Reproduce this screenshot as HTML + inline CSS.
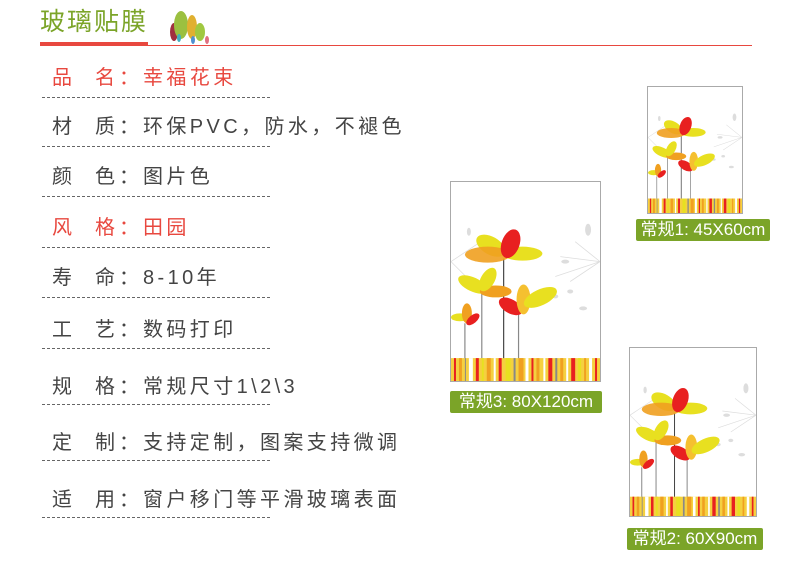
<!DOCTYPE html>
<html><head><meta charset="utf-8"><style>
body{margin:0;width:790px;height:567px;background:#fff;position:relative;overflow:hidden;font-family:"Liberation Sans","Noto Sans CJK SC",sans-serif}
.t{position:absolute;font-size:20px;color:#444;white-space:nowrap;line-height:24px;left:0;width:500px;height:24px}
.t b,.t i,.t u,.t span{font-weight:normal;font-style:normal;text-decoration:none;position:absolute;top:0}
.t b{left:52px}.t i{left:95px}.t u{left:119px}.t span{left:143px;letter-spacing:3.4px}
.red{color:#e8483f}
.d{position:absolute;left:42px;width:228px;border-top:1px dashed #666;height:0}
.pic{position:absolute;border:1px solid #aaa;background:#fff}
.pic svg{display:block;width:100%;height:100%}
.lab{position:absolute;background:#7ba428;color:#fff;font-size:17px;line-height:22px;border-radius:2px;text-align:center;white-space:nowrap}
</style></head><body>
<svg width="0" height="0" style="position:absolute">
<defs>
<symbol id="art" viewBox="0 0 150 200" preserveAspectRatio="none">
<g stroke="#ddd" stroke-width="0.8" fill="none"><path d="M150 80 L110 75 M150 80 L120 100 M150 80 L125 60 M150 80 L105 95 M0 80 L30 60 M0 80 L25 105"/></g>
<g fill="#ddd"><ellipse cx="138" cy="48" rx="3" ry="6"/><ellipse cx="115" cy="80" rx="4" ry="2"/><ellipse cx="120" cy="110" rx="3" ry="2"/><ellipse cx="133" cy="127" rx="4" ry="2"/><ellipse cx="105" cy="115" rx="3" ry="2"/><ellipse cx="18" cy="50" rx="2" ry="4"/></g>
<g stroke="#888" stroke-width="1.2"><line x1="14" y1="142" x2="14" y2="178"/><line x1="31" y1="112" x2="31" y2="178"/><line x1="68" y1="132" x2="68" y2="178"/></g>
<line x1="53" y1="77" x2="53" y2="178" stroke="#444" stroke-width="1.2"/>
<ellipse cx="40" cy="64" rx="16" ry="9" fill="#e8e020" transform="rotate(30 40 64)"/>
<ellipse cx="37" cy="73" rx="23" ry="8" fill="#f0a020" opacity=".9"/>
<ellipse cx="72" cy="72" rx="20" ry="7" fill="#e8e020"/>
<ellipse cx="60" cy="62" rx="9" ry="15" fill="#e82020" transform="rotate(20 60 62)"/>
<ellipse cx="22" cy="103" rx="16" ry="7" fill="#e8e020" transform="rotate(25 22 103)"/>
<ellipse cx="45" cy="110" rx="16" ry="6" fill="#f0a020"/>
<ellipse cx="37" cy="98" rx="7" ry="13" fill="#e8e020" transform="rotate(30 37 98)"/>
<ellipse cx="9" cy="136" rx="9" ry="4" fill="#e8e020"/>
<ellipse cx="16" cy="132" rx="5" ry="10" fill="#f0a020"/>
<ellipse cx="22" cy="138" rx="4" ry="8" fill="#e82020" transform="rotate(50 22 138)"/>
<ellipse cx="60" cy="125" rx="13" ry="7" fill="#e82020" transform="rotate(30 60 125)"/>
<ellipse cx="73" cy="118" rx="7" ry="15" fill="#f5c030"/>
<ellipse cx="90" cy="116" rx="18" ry="8" fill="#e8e020" transform="rotate(-25 90 116)"/>
<g>
<rect x="0" y="177" width="150" height="23" fill="#f5d040"/>
<rect x="3" y="177" width="2" height="23" fill="#e82020"/><rect x="8" y="177" width="3" height="23" fill="#f0a020"/><rect x="14" y="177" width="1" height="23" fill="#888"/><rect x="18" y="177" width="4" height="23" fill="#fff"/><rect x="25" y="177" width="3" height="23" fill="#e82020"/><rect x="31" y="177" width="2" height="23" fill="#e8e020"/><rect x="36" y="177" width="4" height="23" fill="#f0a020"/><rect x="43" y="177" width="2" height="23" fill="#fff"/><rect x="48" y="177" width="3" height="23" fill="#e82020"/><rect x="55" y="177" width="5" height="23" fill="#e8e020"/><rect x="63" y="177" width="2" height="23" fill="#888"/><rect x="68" y="177" width="5" height="23" fill="#f0a020"/><rect x="75" y="177" width="3" height="23" fill="#fff"/><rect x="81" y="177" width="2" height="23" fill="#e82020"/><rect x="86" y="177" width="3" height="23" fill="#f0a020"/><rect x="93" y="177" width="2" height="23" fill="#fff"/><rect x="98" y="177" width="4" height="23" fill="#e82020"/><rect x="105" y="177" width="2" height="23" fill="#888"/><rect x="110" y="177" width="3" height="23" fill="#f0a020"/><rect x="116" y="177" width="2" height="23" fill="#fff"/><rect x="121" y="177" width="4" height="23" fill="#e82020"/><rect x="128" y="177" width="3" height="23" fill="#e8e020"/><rect x="134" y="177" width="2" height="23" fill="#f0a020"/><rect x="139" y="177" width="3" height="23" fill="#fff"/><rect x="145" y="177" width="2" height="23" fill="#e82020"/>
</g>
</symbol>
</defs></svg>

<div style="position:absolute;left:40px;top:7px;font-size:25px;letter-spacing:2px;color:#7ba428;line-height:30px">玻璃贴膜</div>
<svg style="position:absolute;left:165px;top:5px" width="50" height="40">
<ellipse cx="9" cy="27" rx="4" ry="9" fill="#a03040"/><ellipse cx="16" cy="20" rx="7" ry="14" fill="#9bc040"/><ellipse cx="27" cy="22" rx="5" ry="12" fill="#e0b030"/><ellipse cx="35" cy="27" rx="5" ry="9" fill="#a0c840"/><ellipse cx="14" cy="33" rx="2" ry="4" fill="#40b0c0"/><ellipse cx="28" cy="35" rx="2" ry="4" fill="#5090d0"/><ellipse cx="42" cy="35" rx="2" ry="4" fill="#e07080"/>
</svg>
<div style="position:absolute;left:40px;top:45px;width:712px;height:1px;background:#e8483f"></div>
<div style="position:absolute;left:40px;top:42px;width:108px;height:4px;background:#e8483f"></div>

<div class="t red" style="top:66px"><b>品</b><i>名</i><u>：</u><span>幸福花束</span></div>
<div class="t" style="top:115px"><b>材</b><i>质</i><u>：</u><span>环保PVC，防水，不褪色</span></div>
<div class="t" style="top:165px"><b>颜</b><i>色</i><u>：</u><span>图片色</span></div>
<div class="t red" style="top:216px"><b>风</b><i>格</i><u>：</u><span>田园</span></div>
<div class="t" style="top:266px"><b>寿</b><i>命</i><u>：</u><span>8-10年</span></div>
<div class="t" style="top:318px"><b>工</b><i>艺</i><u>：</u><span>数码打印</span></div>
<div class="t" style="top:375px"><b>规</b><i>格</i><u>：</u><span>常规尺寸1\2\3</span></div>
<div class="t" style="top:431px"><b>定</b><i>制</i><u>：</u><span>支持定制，图案支持微调</span></div>
<div class="t" style="top:488px"><b>适</b><i>用</i><u>：</u><span>窗户移门等平滑玻璃表面</span></div>

<div class="d" style="top:97px"></div><div class="d" style="top:146px"></div><div class="d" style="top:196px"></div><div class="d" style="top:247px"></div><div class="d" style="top:297px"></div><div class="d" style="top:348px"></div><div class="d" style="top:404px"></div><div class="d" style="top:460px"></div><div class="d" style="top:517px"></div>

<div class="pic" style="left:450px;top:181px;width:149px;height:199px"><svg><use href="#art"/></svg></div>
<div class="lab" style="left:450px;top:391px;width:152px">常规3: 80X120cm</div>
<div class="pic" style="left:647px;top:86px;width:94px;height:126px"><svg><use href="#art"/></svg></div>
<div class="lab" style="left:636px;top:219px;width:134px">常规1: 45X60cm</div>
<div class="pic" style="left:629px;top:347px;width:126px;height:168px"><svg><use href="#art"/></svg></div>
<div class="lab" style="left:627px;top:528px;width:136px">常规2: 60X90cm</div>
</body></html>
